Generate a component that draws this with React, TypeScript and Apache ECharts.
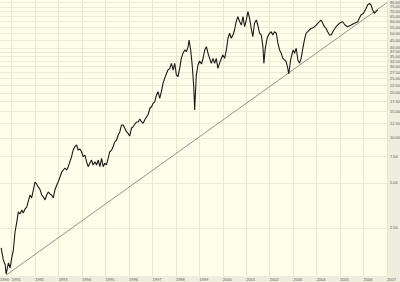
import React, { useEffect, useRef } from 'react';
import * as echarts from 'echarts';

// Decimal-year dates and prices
const years = [
  1990.55, 1990.64, 1990.72, 1990.76, 1990.86, 1990.93, 1991.0, 1991.07, 1991.14, 1991.21,
  1991.28, 1991.35, 1991.43, 1991.49, 1991.57, 1991.64, 1991.71, 1991.78, 1991.85, 1991.92,
  1991.99, 1992.06, 1992.13, 1992.2, 1992.28, 1992.35, 1992.42, 1992.49, 1992.56, 1992.63,
  1992.7, 1992.77, 1992.84, 1992.92, 1992.98, 1993.06, 1993.13, 1993.2, 1993.27, 1993.34,
  1993.41, 1993.48, 1993.55, 1993.62, 1993.69, 1993.77, 1993.83, 1993.91, 1993.98, 1994.05,
  1994.12, 1994.19, 1994.26, 1994.33, 1994.4, 1994.47, 1994.55, 1994.62, 1994.69, 1994.76,
  1994.83, 1994.9, 1994.97, 1995.04, 1995.11, 1995.18, 1995.26, 1995.32, 1995.4, 1995.47,
  1995.54, 1995.61, 1995.68, 1995.75, 1995.82, 1995.89, 1995.96, 1996.03, 1996.11, 1996.17,
  1996.25, 1996.32, 1996.39, 1996.46, 1996.53, 1996.6, 1996.67, 1996.75, 1996.81, 1996.89,
  1996.96, 1997.03, 1997.1, 1997.17, 1997.24, 1997.31, 1997.38, 1997.45, 1997.52, 1997.6,
  1997.66, 1997.74, 1997.81, 1997.88, 1997.95, 1998.02, 1998.09, 1998.16, 1998.23, 1998.3,
  1998.38, 1998.45, 1998.52, 1998.56, 1998.63, 1998.7, 1998.76, 1998.8, 1998.87, 1998.94,
  1999.01, 1999.09, 1999.15, 1999.23, 1999.3, 1999.37, 1999.44, 1999.51, 1999.58, 1999.65,
  1999.72, 1999.79, 1999.86, 1999.94, 2000.0, 2000.08, 2000.15, 2000.22, 2000.29, 2000.36,
  2000.43, 2000.5, 2000.57, 2000.64, 2000.72, 2000.79, 2000.86, 2000.93, 2001.0, 2001.07,
  2001.14, 2001.21, 2001.28, 2001.35, 2001.43, 2001.49, 2001.57, 2001.64, 2001.71, 2001.75,
  2001.81, 2001.89, 2001.95, 2001.99, 2002.06, 2002.13, 2002.2, 2002.28, 2002.35, 2002.42,
  2002.49, 2002.56, 2002.63, 2002.7, 2002.77, 2002.81, 2002.89, 2002.94, 2003.0, 2003.06,
  2003.13, 2003.2, 2003.27, 2003.34, 2003.41, 2003.48, 2003.55, 2003.62, 2003.69, 2003.77,
  2003.83, 2003.91, 2003.98, 2004.05, 2004.12, 2004.19, 2004.26, 2004.33, 2004.4, 2004.47,
  2004.55, 2004.62, 2004.69, 2004.83, 2004.97, 2005.11, 2005.21, 2005.32, 2005.47, 2005.61,
  2005.75, 2005.82, 2005.89, 2006.0, 2006.11, 2006.17, 2006.25, 2006.32, 2006.39, 2006.46, 2006.53, 2006.6,
];

const prices = [
  1.84, 1.53, 1.42, 1.23, 1.46, 1.35, 1.58, 1.78, 2.35, 2.7,
  3.2, 3.1, 3.3, 3.15, 3.35, 3.45, 3.79, 4.15, 3.97, 4.48,
  5.07, 4.92, 4.7, 4.55, 4.15, 4.03, 3.85, 4.15, 4.35, 4.22,
  4.15, 3.97, 4.48, 4.84, 5.07, 5.48, 5.91, 6.1, 6.29, 6.1,
  6.42, 6.93, 7.48, 8.29, 8.73, 8.96, 8.29, 8.43, 8.05, 7.48,
  7.68, 6.93, 6.42, 6.76, 7.11, 6.59, 6.93, 6.59, 7.11, 6.42,
  7.3, 6.42, 6.76, 6.59, 7.3, 8.08, 8.29, 8.73, 9.43, 9.67,
  10.45, 11.0, 12.19, 12.19, 11.58, 11.0, 10.72, 10.29, 11.64, 11.82,
  12.37, 12.77, 12.77, 13.36, 12.82, 12.51, 13.16, 13.86, 14.22, 15.77,
  16.14, 17.02, 17.44, 19.33, 20.34, 18.39, 20.34, 23.15, 24.99, 27.0,
  28.41, 29.15, 31.48, 28.41, 31.48, 26.29, 25.62, 29.15, 34.01, 36.73,
  38.65, 37.66, 40.67, 45.09, 38.65, 29.89, 21.97, 15.36, 26.29, 30.68,
  32.64, 31.15, 33.64, 38.65, 40.67, 36.73, 34.01, 31.48, 34.01, 31.48,
  34.01, 29.15, 31.48, 34.01, 35.78, 34.01, 38.65, 46.28, 49.98, 46.28,
  48.7, 52.57, 59.72, 64.5, 59.72, 56.75, 64.5, 55.29, 61.29, 69.66,
  62.94, 53.98, 47.4, 58.3, 61.29, 56.75, 49.98, 48.7, 40.67, 31.48,
  39.67, 46.46, 48.7, 49.98, 51.2, 48.7, 51.2, 49.98, 42.85, 38.65,
  36.73, 34.01, 33.14, 32.29, 29.15, 26.72, 33.14, 35.78, 38.65, 36.73,
  39.67, 33.14, 31.48, 34.01, 39.67, 45.09, 49.98, 51.2, 52.57, 53.98,
  54.21, 55.29, 56.75, 58.3, 59.72, 61.29, 58.3, 55.29, 53.98, 51.2,
  48.7, 48.7, 51.2, 55.29, 58.3, 59.72, 56.75, 55.29, 56.75, 58.3,
  59.72, 62.94, 66.2, 67.97, 73.4, 77.23, 79.27, 77.23, 71.51, 67.97, 69.66, 71.51,
];

// Trend line endpoints
const trendYears = [1990.76, 2007.0];
const trendPrices = [1.21, 80.1];

// Axis ticks
const priceTicks = [2.5, 5, 7.5, 10, 12.5, 15, 17.5, 20, 22.5, 25, 27.5, 30, 32.5, 35, 37.5, 40, 45, 50, 55, 60, 65, 70, 75, 80];
const yearTicks = [1991, 1992, 1993, 1994, 1995, 1996, 1997, 1998, 1999, 2000, 2001, 2002, 2003, 2004, 2005, 2006, 2007];
const startYear = 1990.5;
const endYear = 2007;
const priceMin = 1.194;
const priceMax = 83.4;

export default function App() {
  const ref = useRef<HTMLDivElement>(null);
  useEffect(() => {
    const chart = echarts.init(ref.current as HTMLDivElement, null, { renderer: 'svg' });
    const ln = Math.log;
    const nearestTick = (v: number) => {
      const p = Math.exp(v);
      let best = priceTicks[0];
      for (const t of priceTicks) if (Math.abs(t - p) < Math.abs(best - p)) best = t;
      return best;
    };
    chart.setOption({
      animation: false,
      backgroundColor: '#eeedde',
      grid: {
        left: 0, top: 0, right: 13, bottom: 6,
        show: true, backgroundColor: '#fffeea', borderWidth: 0,
        containLabel: false, outerBoundsMode: 'none',
      },
      xAxis: {
        type: 'value', min: startYear, max: endYear,
        axisLine: { show: false },
        axisTick: { show: false, customValues: yearTicks },
        splitLine: { show: true, lineStyle: { color: '#ebe7cd', width: 1 } },
        axisLabel: {
          customValues: [startYear, ...yearTicks],
          formatter: (v: number) => String(Math.floor(v + 1e-6)),
          fontSize: 4, color: '#555', margin: 1, align: 'left',
          fontFamily: 'Liberation Sans',
        },
      },
      yAxis: {
        type: 'value', position: 'right', min: ln(priceMin), max: ln(priceMax),
        axisLine: { show: false },
        axisTick: { show: false, customValues: priceTicks.map(ln) },
        splitLine: { show: true, lineStyle: { color: '#efecd6', width: 1 } },
        axisLabel: {
          customValues: priceTicks.map(ln),
          formatter: (v: number) => nearestTick(v).toFixed(2),
          fontSize: 4, color: '#555', margin: 3, align: 'left',
          fontFamily: 'Liberation Sans',
        },
      },
      series: [
        {
          type: 'line',
          data: years.map((y, i) => [y, ln(prices[i])]),
          showSymbol: false,
          symbol: 'none',
          lineStyle: { color: '#1a1a1a', width: 1.1 },
          z: 3,
        },
        {
          type: 'line',
          data: trendYears.map((y, i) => [y, ln(trendPrices[i])]),
          showSymbol: false,
          symbol: 'none',
          lineStyle: { color: '#777', width: 0.8 },
          z: 2,
        },
      ],
    });
    return () => chart.dispose();
  }, []);
  return <div ref={ref} style={{ position: 'fixed', left: 0, top: 0, width: 400, height: 282 }} />;
}
